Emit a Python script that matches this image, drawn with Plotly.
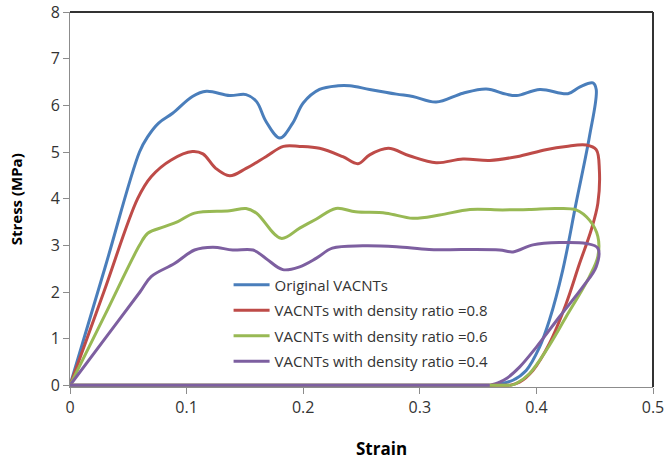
import plotly.graph_objects as go

names = ["Original VACNTs",
         "VACNTs with density ratio =0.8",
         "VACNTs with density ratio =0.6",
         "VACNTs with density ratio =0.4"]
colors = ["#4A7EBB", "#BE4B48", "#98B954", "#7D5FA0"]

strain_orig = [0, 0.03, 0.0596, 0.0667, 0.076, 0.088, 0.105, 0.117,
               0.137, 0.151, 0.160, 0.168, 0.180, 0.191, 0.200, 0.214, 0.230, 0.240, 0.257,
               0.280, 0.294, 0.314, 0.337, 0.357, 0.374, 0.383, 0.403, 0.427, 0.437, 0.4484,
               0.4513, 0.4455, 0.434, 0.4226, 0.4112, 0.4027, 0.3912, 0.3798, 0.368, 0.36]
stress_orig = [0, 2.52, 5.0, 5.33, 5.62, 5.83, 6.19, 6.30,
               6.21, 6.23, 6.08, 5.66, 5.30, 5.62, 6.05, 6.34, 6.42, 6.42, 6.34,
               6.24, 6.19, 6.07, 6.26, 6.35, 6.24, 6.21, 6.34, 6.25, 6.39, 6.48,
               6.34, 5.33, 3.90, 2.47, 1.40, 0.82, 0.32, 0.11, 0.03, 0]

strain_08 = [0, 0.029, 0.058, 0.0696, 0.0868, 0.105, 0.114, 0.125, 0.137,
             0.151, 0.168, 0.183, 0.197, 0.214, 0.234, 0.247, 0.257, 0.273, 0.291, 0.314,
             0.337, 0.360, 0.383, 0.408, 0.4255, 0.4427, 0.4513, 0.454, 0.4527, 0.447,
             0.437, 0.4255, 0.4112, 0.397, 0.3855, 0.377]
stress_08 = [0, 2.0, 4.0, 4.47, 4.83, 5.01, 4.96, 4.65, 4.49,
             4.65, 4.90, 5.12, 5.12, 5.08, 4.90, 4.75, 4.94, 5.08, 4.92, 4.77,
             4.85, 4.82, 4.90, 5.05, 5.12, 5.15, 5.05, 4.62, 3.90, 3.33,
             2.61, 1.75, 0.90, 0.32, 0.07, 0]

strain_06 = [0, 0.03, 0.0596, 0.0667, 0.081, 0.0925, 0.1068, 0.137, 0.151, 0.160,
             0.181, 0.197, 0.211, 0.228, 0.245, 0.271, 0.294, 0.317, 0.343, 0.371, 0.394,
             0.417, 0.434, 0.4455, 0.4527, 0.4527, 0.4455, 0.4255, 0.4084, 0.394, 0.3827,
             0.378]
stress_06 = [0, 1.51, 3.0, 3.26, 3.40, 3.51, 3.69, 3.74, 3.79, 3.69,
             3.15, 3.37, 3.56, 3.79, 3.72, 3.69, 3.58, 3.65, 3.77, 3.76, 3.77,
             3.79, 3.76, 3.54, 3.19, 2.76, 2.33, 1.47, 0.75, 0.25, 0.04,
             0]

strain_04 = [0, 0.03, 0.06, 0.0696, 0.0896, 0.1068, 0.1225, 0.1396, 0.157, 0.168, 0.1825,
             0.197, 0.211, 0.225, 0.251, 0.280, 0.308, 0.337, 0.3684, 0.380, 0.397, 0.4198,
             0.4427, 0.4527, 0.4513, 0.4398, 0.4198, 0.400, 0.3855, 0.374, 0.3684, 0.36]
stress_04 = [0, 1.0, 2.0, 2.33, 2.61, 2.90, 2.96, 2.90, 2.90, 2.72, 2.48,
             2.54, 2.72, 2.94, 2.99, 2.97, 2.91, 2.91, 2.90, 2.86, 3.01, 3.06,
             3.04, 2.94, 2.54, 2.11, 1.47, 0.82, 0.39, 0.14, 0.07, 0]

series = [(strain_orig, stress_orig), (strain_08, stress_08),
          (strain_06, stress_06), (strain_04, stress_04)]

x_ticks = [0, 0.1, 0.2, 0.3, 0.4, 0.5]
y_ticks = [0, 1, 2, 3, 4, 5, 6, 7, 8]

fig = go.Figure()
for i, (xs, ys) in enumerate(series):
    fig.add_trace(go.Scatter(
        x=xs, y=ys, mode="lines", name=names[i], legendgroup=str(i),
        line=dict(color=colors[i], width=3, shape="spline", smoothing=1.0),
    ))
# unloaded return path along zero stress back to the origin
for i, (xs, ys) in enumerate(series):
    fig.add_trace(go.Scatter(
        x=[xs[-1], xs[0]], y=[ys[-1], ys[0]], mode="lines", legendgroup=str(i),
        showlegend=False, line=dict(color=colors[i], width=3),
    ))

axis_common = dict(showgrid=False, zeroline=False, showline=True, linecolor="#8C8C8C",
                   linewidth=1, ticks="outside", ticklen=6, tickcolor="#8C8C8C",
                   automargin=False, layer="below traces",
                   tickfont=dict(family="Open Sans", size=16, color="#333333"))

fig.update_layout(
    width=665, height=459,
    margin=dict(l=70, r=12, t=12, b=72),
    plot_bgcolor="white", paper_bgcolor="white",
    showlegend=True,
    legend=dict(x=0.272, y=0.316, xanchor="left", yanchor="top", itemwidth=36,
                bgcolor="rgba(0,0,0,0)", traceorder="grouped", tracegroupgap=3,
                font=dict(family="Open Sans", size=15, color="#333333")),
    xaxis=dict(range=[0, 0.5], tickvals=x_ticks, ticktext=[str(t) for t in x_ticks], **axis_common),
    yaxis=dict(range=[-0.035, 8], tickvals=y_ticks, **axis_common),
    shapes=[
        dict(type="line", xref="paper", yref="paper", x0=0, x1=1, y0=1, y1=1,
             line=dict(color="#333333", width=2)),
        dict(type="line", xref="paper", yref="paper", x0=1, x1=1, y0=0, y1=1,
             line=dict(color="#333333", width=2)),
    ],
    annotations=[
        dict(text="<b>Strain</b>", xref="paper", yref="paper", x=0.535, y=-0.163,
             xanchor="center", yanchor="middle", showarrow=False,
             font=dict(family="Open Sans", size=17, color="#000000")),
        dict(text="<b>Stress (MPa)</b>", xref="paper", yref="paper", x=-0.093, y=0.5,
             xanchor="center", yanchor="middle", textangle=-90, showarrow=False,
             font=dict(family="Open Sans", size=15, color="#000000")),
    ],
)

fig.write_html("out.html", config={"displayModeBar": False},
               post_script="document.body.style.margin='0px';")
